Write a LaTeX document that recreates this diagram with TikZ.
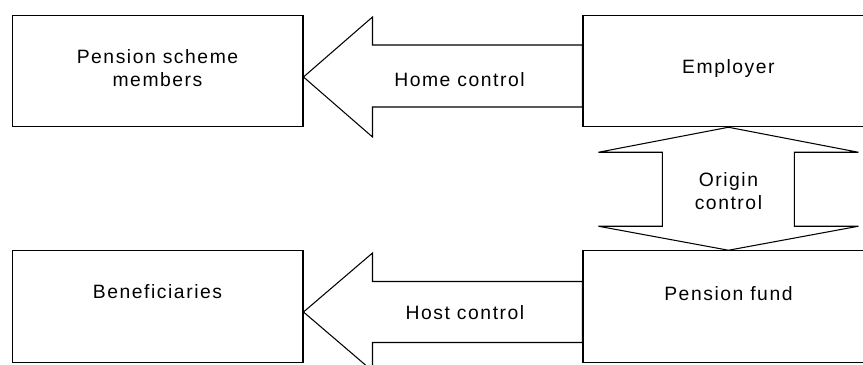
\documentclass[tikz,border=0pt]{standalone}
\usepackage{fontspec}
\usetikzlibrary{positioning,calc}
\newfontfamily\diafont{Liberation Sans}[LetterSpace=8]

\begin{document}
\begin{tikzpicture}[
    x=0.02cm, y=0.02cm,
    box/.style={rectangle, minimum width=5.82cm, minimum height=2.23cm, align=center, draw=black, line width=0.6pt, font=\diafont\fontsize{11}{13}\selectfont},
    blockarrow/.style={draw=black, line width=0.6pt, line join=miter},
    caption/.style={align=center, font=\diafont\fontsize{11}{13}\selectfont}
]
\useasboundingbox (0,0) rectangle (863,365);
\clip (0,0) rectangle (863,365);

% Nodes
\node (members) [box, text depth=3pt] at (157.5,294) {Pension scheme\\members};
\node (employer) [box, right=5.58cm of members, text depth=5pt] {Employer};
\node (benef) [box, below=2.46cm of members, text depth=17pt] {Beneficiaries};
\node (fund) [box, below=2.46cm of employer, text depth=15pt] {Pension fund};

% Control arrows
\coordinate (home) at ($(members.east)+(0,-6)$);
\draw [blockarrow] (home) -- ++(69,60) |- ($(employer.west)+(0,26)$) -- ($(employer.west)+(0,-36)$) -| ($(home)+(69,-60)$) -- cycle;

\coordinate (host) at ($(benef.east)+(0,-5.5)$);
\draw [blockarrow] (host) -- ++(69,59) |- ($(fund.west)+(0,25)$) -- ($(fund.west)+(0,-36)$) -| ($(host)+(69,-59)$) -- cycle;

\draw [blockarrow] (employer.south) -- ++(130,-25) -- ++(-64,0) |- ($(fund.north)+(66,24)$) -- ++(64,0) -- (fund.north) -- ++(-130,24) -- ++(64,0) |- ($(employer.south)+(-66,-25)$) -- ++(-64,0) -- cycle;

% Labels
\node (homelabel) [caption] at (459.5,285) {Home control};
\node (hostlabel) [caption] at (465,52) {Host control};
\node (originlabel) [caption, yshift=-0.05cm] at ($(employer.south)!0.5!(fund.north)$) {Origin\\control};

\end{tikzpicture}
\end{document}
